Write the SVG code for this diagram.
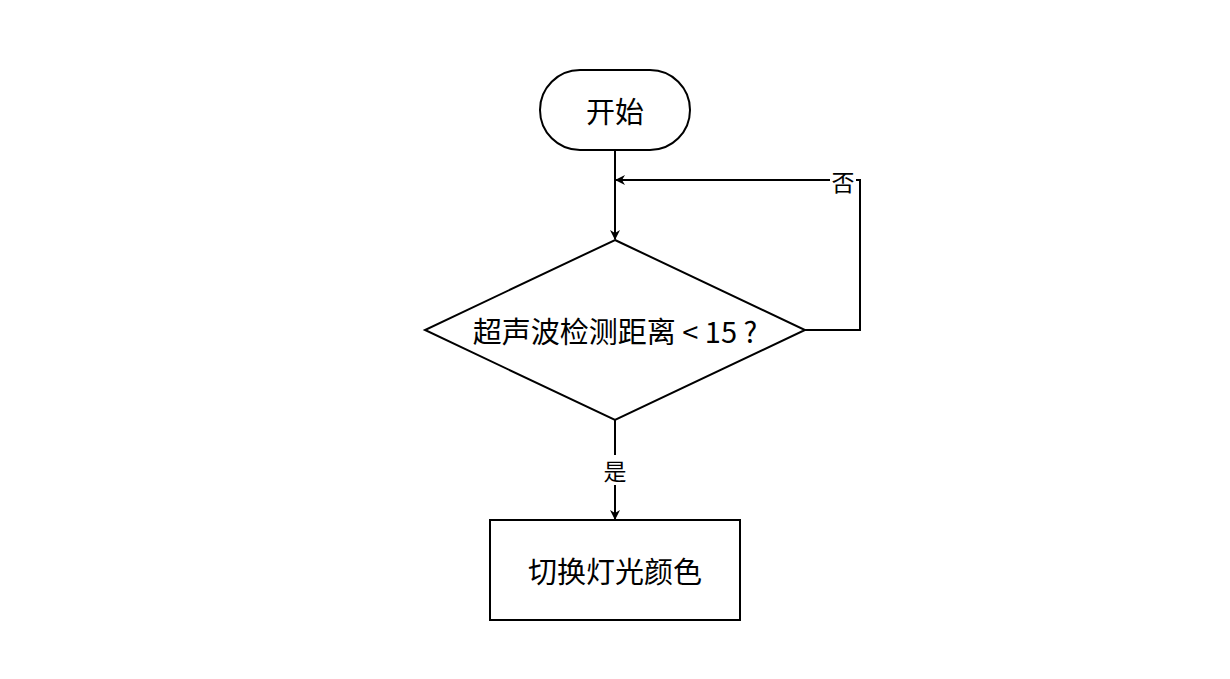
<svg xmlns="http://www.w3.org/2000/svg" width="1230" height="679" viewBox="0 0 1230 679">
<style>
.s{fill:#fff;stroke:#000;stroke-width:2}
.t{font-family:"Noto Sans CJK SC","Noto Sans",sans-serif;font-size:29px;fill:#000;text-anchor:middle;dominant-baseline:central}
.l{font-family:"Noto Sans CJK SC","Noto Sans",sans-serif;font-size:23px;fill:#000;text-anchor:middle;dominant-baseline:central}
.c{fill:none;stroke:#000;stroke-width:2}
</style>
<defs>
<marker id="a" markerWidth="10" markerHeight="10" refX="9" refY="5" orient="auto" markerUnits="userSpaceOnUse">
<path d="M0,0 L10,5 L0,10 L3,5 Z" fill="#000"/>
</marker>
</defs>
<rect width="1230" height="679" fill="#fff"/>
<g id="connectors">
<path class="c" d="M615,150 V239" marker-end="url(#a)"/>
<path class="c" d="M805,330 H860 V180 H616" marker-end="url(#a)"/>
<path class="c" d="M615,420 V519" marker-end="url(#a)"/>
<rect x="830" y="166" width="26" height="28" fill="#fff"/>
<text class="l" x="843" y="181">否</text>
<rect x="602" y="455" width="26" height="30" fill="#fff"/>
<text class="l" x="615" y="470">是</text>
</g>
<g id="start">
<rect class="s" x="540" y="70" width="150" height="80" rx="40" ry="40"/>
<text class="t" x="615" y="110">开始</text>
</g>
<g id="decision">
<polygon class="s" points="615,240 805,330 615,420 425,330"/>
<text class="t" x="615" y="330">超声波检测距离 &lt; 15 ?</text>
</g>
<g id="action">
<rect class="s" x="490" y="520" width="250" height="100"/>
<text class="t" x="615" y="570">切换灯光颜色</text>
</g>
</svg>
